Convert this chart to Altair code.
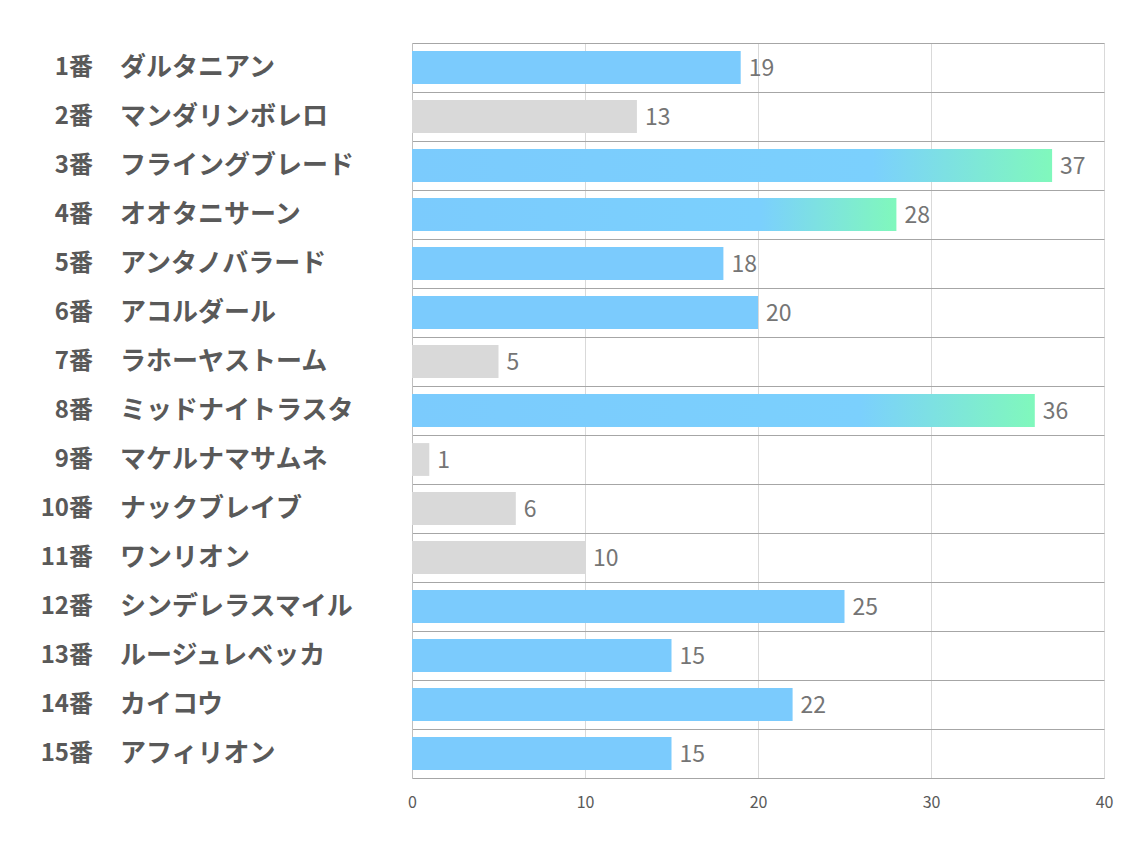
import altair as alt
import pandas as pd

nums = ["1番", "2番", "3番", "4番", "5番", "6番", "7番", "8番", "9番", "10番",
        "11番", "12番", "13番", "14番", "15番"]
names = ["ダルタニアン", "マンダリンボレロ", "フライングブレード", "オオタニサーン",
         "アンタノバラード", "アコルダール", "ラホーヤストーム", "ミッドナイトラスタ",
         "マケルナマサムネ", "ナックブレイブ", "ワンリオン", "シンデレラスマイル",
         "ルージュレベッカ", "カイコウ", "アフィリオン"]
values = [19, 13, 37, 28, 18, 20, 5, 36, 1, 6, 10, 25, 15, 22, 15]

top3 = sorted(values, reverse=True)[:3]
kinds = ["grad" if v in top3 else ("gray" if v < 15 else "blue") for v in values]

df = pd.DataFrame({"num": nums, "name": names, "value": values, "kind": kinds})

FONT = "Noto Sans CJK JP"
y = alt.Y("num:N", sort=nums, title=None,
          scale=alt.Scale(paddingInner=0, paddingOuter=0),
          axis=alt.Axis(labels=False, ticks=False, domain=True, domainColor="#bfbfbf",
                        grid=True, gridColor="#a6a6a6", gridWidth=1, tickBand="extent"))
x = alt.X("value:Q", title=None, scale=alt.Scale(domain=[0, 40]),
          axis=alt.Axis(values=[0, 10, 20, 30, 40], grid=True, gridColor="#d9d9d9",
                        domain=False, ticks=False, labelFont=FONT, labelFontSize=16,
                        labelColor="#595959", labelPadding=16, labelFlush=False))

base = alt.Chart(df)

gray = base.transform_filter(alt.datum.kind == "gray").mark_bar(
    height={"band": 0.67}, color="#d9d9d9").encode(x=x, y=y)
blue = base.transform_filter(alt.datum.kind == "blue").mark_bar(
    height={"band": 0.67}, color="#7bcbfd").encode(x=x, y=y)
grad = base.transform_filter(alt.datum.kind == "grad").mark_bar(
    height={"band": 0.67},
    color=alt.LinearGradient(
        gradient="linear", x1=0, x2=1, y1=0, y2=0,
        stops=[alt.GradientStop(offset=0, color="#7bcbfd"),
               alt.GradientStop(offset=0.72, color="#7bd0fd"),
               alt.GradientStop(offset=1, color="#80f8bc")])).encode(x=x, y=y)

vals = base.mark_text(align="left", baseline="middle", dx=8, dy=1, font=FONT,
                      fontSize=23, color="#757575").encode(x=x, y=y, text="value:Q")

numtxt = base.mark_text(align="right", baseline="middle", font=FONT, fontSize=24,
                        fontWeight="bold", color="#595959").encode(
    x=alt.value(-319), y=y, text="num:N")
nametxt = base.mark_text(align="left", baseline="middle", font=FONT, fontSize=26,
                         fontWeight="bold", color="#595959").encode(
    x=alt.value(-292), y=y, text="name:N")

chart = alt.layer(gray, blue, grad, vals, numtxt, nametxt).properties(
    width=692, height=735,
    autosize=alt.AutoSizeParams(type="none"),
    padding={"left": 404, "top": 35, "right": 22, "bottom": 50},
).configure_view(stroke=None).configure(background="white")

chart.save("out.html", embed_options={"renderer": "svg", "actions": False})
